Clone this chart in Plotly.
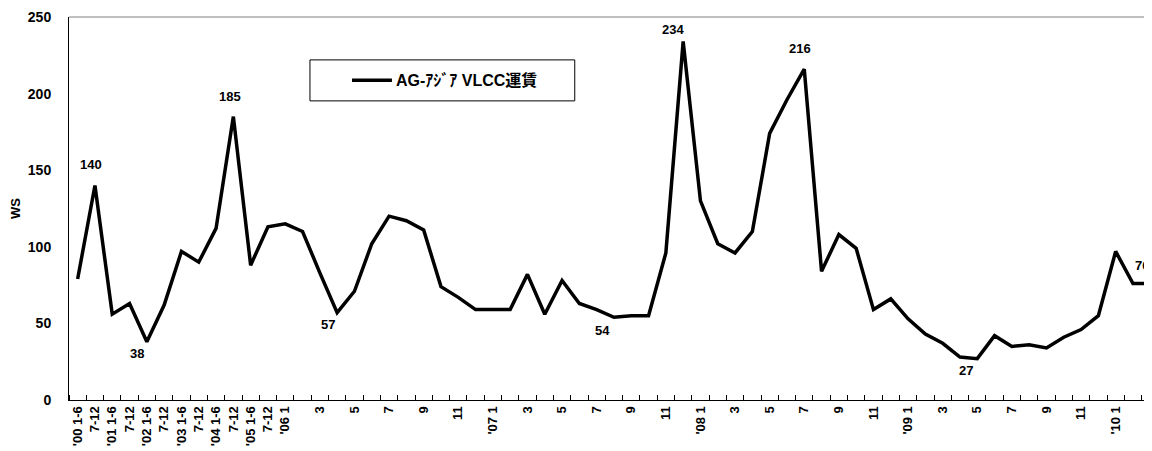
import plotly.graph_objects as go

# ---- data ----
tick_labels = (
    ["'00 1-6", "7-12", "'01 1-6", "7-12", "'02 1-6", "7-12",
     "'03 1-6", "7-12", "'04 1-6", "7-12", "'05 1-6", "7-12"]
    + ["'06 1", "", "3", "", "5", "", "7", "", "9", "", "11", ""]
    + ["'07 1", "", "3", "", "5", "", "7", "", "9", "", "11", ""]
    + ["'08 1", "", "3", "", "5", "", "7", "", "9", "", "11", ""]
    + ["'09 1", "", "3", "", "5", "", "7", "", "9", "", "11", ""]
    + ["'10 1", "", "3"]
)

ws_values = [
    79, 140, 56, 63, 38, 62, 97, 90, 112, 185, 88, 113,        # 2000-2005 half-years
    115, 110, 83, 57, 71, 102, 120, 117, 111, 74, 67, 59,       # 2006
    59, 59, 82, 56, 78, 63, 59, 54, 55, 55, 96, 234,            # 2007
    130, 102, 96, 110, 174, 196, 216, 84, 108, 99, 59, 66,      # 2008
    53, 43, 37, 28, 27, 42, 35, 36, 34, 41, 46, 55,             # 2009
    97, 76, 76,                                                 # 2010
]

labeled_points = [1, 4, 9, 15, 31, 35, 42, 52, 62]

series_name = "AG-ｱｼﾞｱ VLCC運賃"

# ---- styling ----
label_style = {  # index: (xshift, yshift)
    1: (-4, 21), 4: (-10, -12), 9: (-3, 20), 15: (-9, -12), 31: (-11, -13),
    35: (-10, 12), 42: (-4, 21), 52: (-11, -12), 62: (-8, 18),
}

FONT = "Arial, 'Liberation Sans', 'Noto Sans CJK JP', sans-serif"

x_idx = list(range(len(ws_values)))

fig = go.Figure()
fig.add_trace(go.Scatter(
    x=x_idx, y=ws_values, mode="lines", name=series_name,
    line=dict(color="black", width=3.5), showlegend=False,
))

for i in labeled_points:
    xs, ys = label_style[i]
    fig.add_annotation(
        x=i, y=ws_values[i], xref="x", yref="y", text=str(ws_values[i]),
        showarrow=False, xshift=xs, yshift=ys,
        font=dict(family=FONT, size=13, color="black", weight="bold"),
    )

# legend frame, sample line and label
fig.add_shape(type="rect", xref="paper", yref="paper",
              x0=0.2225, x1=0.467, y0=0.781, y1=0.888,
              line=dict(color="black", width=1), fillcolor="white", layer="below")
fig.add_shape(type="line", xref="paper", yref="paper",
              x0=0.2613, x1=0.2982, y0=0.8347, y1=0.8347,
              line=dict(color="black", width=3.5))
fig.add_annotation(x=0.300, y=0.8347, xref="paper", yref="paper",
                   text=series_name, showarrow=False,
                   xanchor="left", yanchor="middle",
                   font=dict(family=FONT, size=16, color="black", weight="bold"))
# top plot border
fig.add_shape(type="line", xref="paper", yref="paper",
              x0=0, x1=1, y0=1, y1=1, line=dict(color="#808080", width=1))

# page body adds an 8px offset; figure sized to fill the remaining window
fig.update_layout(
    width=1144, height=443,
    margin=dict(l=61, r=0, t=9, b=51, autoexpand=False),
    paper_bgcolor="white", plot_bgcolor="white",
    font=dict(family=FONT, size=13, color="black", weight="bold"),
    showlegend=False,
)

fig.update_xaxes(
    range=[-0.5, 62.1], automargin=False,
    tickmode="array", tickvals=x_idx, ticktext=tick_labels,
    tickangle=-90, ticks="", showgrid=False, zeroline=False,
    showline=True, linecolor="black", linewidth=1, ticklabelstandoff=0,
    ticklabeloverflow="allow",
    tickfont=dict(family=FONT, size=13, color="black", weight="bold"),
    minor=dict(ticks="inside", ticklen=5, tickcolor="black", tick0=0.5, dtick=1,
               showgrid=False),
)

fig.update_yaxes(
    range=[0, 250], tickvals=[0, 50, 100, 150, 200, 250], automargin=False,
    showgrid=False, zeroline=False,
    showline=True, linecolor="black", linewidth=1,
    ticks="", ticklabelstandoff=14,
    tickfont=dict(family=FONT, size=14, color="black", weight="bold"),
    title=dict(text="WS", standoff=6,
               font=dict(family=FONT, size=13, color="black", weight="bold")),
)

fig.write_html("out.html")
